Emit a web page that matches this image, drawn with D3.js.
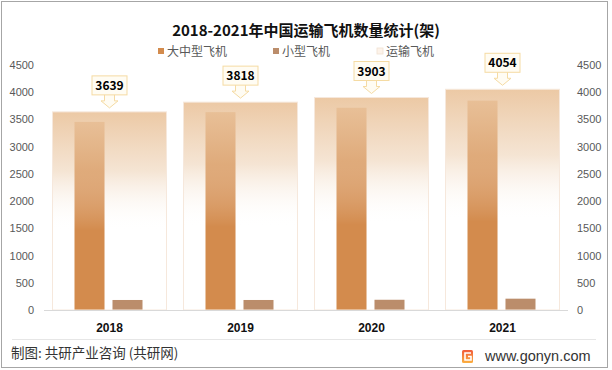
<!DOCTYPE html>
<html>
<head>
<meta charset="utf-8">
<script src="https://cdn.jsdelivr.net/npm/d3@7/dist/d3.min.js"></script>
<style>
  body { margin: 0; background: #fff; }
  text { font-family: "Noto Sans CJK SC", "Noto Sans", sans-serif; }
</style>
</head>
<body>
<svg id="chart" width="612" height="370"></svg>
<script>
// data
const years = ['2018', '2019', '2020', '2021']
const largeMid = [3455, 3634, 3715, 3846]   // 大中型飞机
const small = [184, 184, 188, 208]          // 小型飞机
const transport = [3639, 3818, 3903, 4054]  // 运输飞机
const yTicks = [0, 500, 1000, 1500, 2000, 2500, 3000, 3500, 4000, 4500]
const seriesNames = ['大中型飞机', '小型飞机', '运输飞机']

const svg = d3.select('#chart')
const colLarge = '#d38b4d', colSmall = '#bb8d6b'

// frame
svg.append('rect').attr('x', 1.5).attr('y', 1.5).attr('width', 606).attr('height', 366)
  .attr('fill', '#fff').attr('stroke', '#a6a6a6')

let scX = d3.scaleBand().domain(years).range([44, 568]).paddingInner(0.13).paddingOuter(0.065)
let scY = d3.scaleLinear().domain([0, 4500]).range([310, 65])
let sub = d3.scaleBand().domain(['large', 'small']).range([-35, 33]).paddingInner(0.21)
const mid = y => scX(y) + scX.bandwidth() / 2

// gradient for the transport overlay
const defs = svg.append('defs')
const grad = defs.append('linearGradient').attr('id', 'fade').attr('x1', 0).attr('y1', 0).attr('x2', 0).attr('y2', 1)
grad.append('stop').attr('offset', 0).attr('stop-color', '#ebc6a0').attr('stop-opacity', 0.95)
grad.append('stop').attr('offset', 0.3).attr('stop-color', '#ebcaa8').attr('stop-opacity', 0.5)
grad.append('stop').attr('offset', 0.6).attr('stop-color', '#fff').attr('stop-opacity', 0)
grad.append('stop').attr('offset', 1).attr('stop-color', '#fff').attr('stop-opacity', 0)

const logoGrad = defs.append('linearGradient').attr('id', 'logo').attr('x1', 0).attr('y1', 0).attr('x2', 0).attr('y2', 1)
logoGrad.append('stop').attr('offset', 0).attr('stop-color', '#f15a3a')
logoGrad.append('stop').attr('offset', 1).attr('stop-color', '#fbb040')

// title
svg.append('text').attr('x', 306).attr('y', 36).attr('text-anchor', 'middle')
  .attr('font-size', 15).attr('font-weight', 'bold').attr('fill', '#111')
  .text('2018-2021年中国运输飞机数量统计(架)')

// legend
const legendX = [158, 273, 377]
const legendFill = [colLarge, colSmall, '#fdf3ea']
seriesNames.forEach((name, i) => {
  svg.append('rect').attr('x', legendX[i]).attr('y', 48).attr('width', 6).attr('height', 6)
    .attr('fill', legendFill[i]).attr('stroke', i === 2 ? '#f1e2d3' : 'none').attr('stroke-width', 0.8)
  svg.append('text').attr('x', legendX[i] + 9).attr('y', 56).attr('font-size', 12)
    .attr('fill', '#595959').text(name)
})

// y axes (left and right)
const axL = d3.axisLeft(scY).tickValues(yTicks).tickFormat(d3.format('d')).tickSize(0).tickPadding(0)
const gl = svg.append('g').attr('transform', 'translate(34,0)').call(axL)
const axR = d3.axisRight(scY).tickValues(yTicks).tickFormat(d3.format('d')).tickSize(0).tickPadding(0)
const gr = svg.append('g').attr('transform', 'translate(577,0)').call(axR)
;[gl, gr].forEach(g => {
  g.select('.domain').remove()
  g.selectAll('text').attr('font-size', 11).attr('fill', '#595959')
    .style('font-family', '"Liberation Sans", "Noto Sans", sans-serif')
})

// bars
const g = svg.append('g')
g.selectAll('rect.large').data(largeMid).enter().append('rect').attr('class', 'large')
  .attr('x', (d, i) => mid(years[i]) + sub('large')).attr('width', sub.bandwidth())
  .attr('y', d => scY(d)).attr('height', d => scY(0) - scY(d)).attr('fill', colLarge)
g.selectAll('rect.small').data(small).enter().append('rect').attr('class', 'small')
  .attr('x', (d, i) => mid(years[i]) + sub('small')).attr('width', sub.bandwidth())
  .attr('y', d => scY(d)).attr('height', d => scY(0) - scY(d)).attr('fill', colSmall)

// transport bars drawn on top, fading out
g.selectAll('rect.trans').data(transport).enter().append('rect').attr('class', 'trans')
  .attr('x', (d, i) => scX(years[i])).attr('width', scX.bandwidth())
  .attr('y', d => scY(d)).attr('height', d => scY(0) - scY(d))
  .attr('fill', 'url(#fade)').attr('stroke', '#f6e8dc').attr('stroke-width', 1)

// x axis line
svg.append('line').attr('x1', 44).attr('x2', 568).attr('y1', 310.5).attr('y2', 310.5)
  .attr('stroke', '#d9d9d9')
svg.selectAll('text.cat').data(years).enter().append('text').attr('class', 'cat')
  .attr('x', d => mid(d)).attr('y', 332).attr('text-anchor', 'middle')
  .attr('font-size', 12).attr('font-weight', 'bold').attr('fill', '#111')
  .style('font-family', '"Liberation Sans", "Noto Sans", sans-serif')
  .text(d => d)

// callouts
transport.forEach((v, i) => {
  const cx = mid(years[i])
  const tip = scY(v) - 4
  const bb = tip - 13
  const c = svg.append('g')
  c.append('path')
    .attr('d', `M${cx - 5},${bb - 1} L${cx - 5},${bb + 6} L${cx - 8.5},${bb + 6} L${cx},${tip} L${cx + 8.5},${bb + 6} L${cx + 5},${bb + 6} L${cx + 5},${bb - 1}`)
    .attr('fill', '#fffcf3').attr('stroke', '#f5dba3')
  c.append('rect').attr('x', cx - 17.5).attr('y', bb - 19).attr('width', 35).attr('height', 19)
    .attr('fill', '#fffcf3').attr('stroke', '#f5dba3')
  c.append('text').attr('x', cx).attr('y', bb - 5).attr('text-anchor', 'middle')
    .attr('font-size', 12).attr('font-weight', 'bold').attr('fill', '#000')
    .text(v)
})

// footer
svg.append('line').attr('x1', 12).attr('x2', 596).attr('y1', 339.5).attr('y2', 339.5).attr('stroke', '#e6e6e6')
svg.append('text').attr('x', 11).attr('y', 358).attr('font-size', 13.5).attr('fill', '#333')
  .text('制图: 共研产业咨询 (共研网)')
svg.append('rect').attr('x', 462).attr('y', 350).attr('width', 11).attr('height', 13).attr('rx', 1.5)
  .attr('fill', 'url(#logo)')
svg.append('path').attr('d', 'M471,353 L465,353 L465,360 L471,360 L471,356.5 L468,356.5')
  .attr('fill', 'none').attr('stroke', '#fff').attr('stroke-width', 1.6)
svg.append('text').attr('x', 485).attr('y', 361).attr('font-size', 14.5).attr('fill', '#333')
  .style('font-family', '"Liberation Sans", "Noto Sans", sans-serif')
  .text('www.gonyn.com')
</script>
</body>
</html>
